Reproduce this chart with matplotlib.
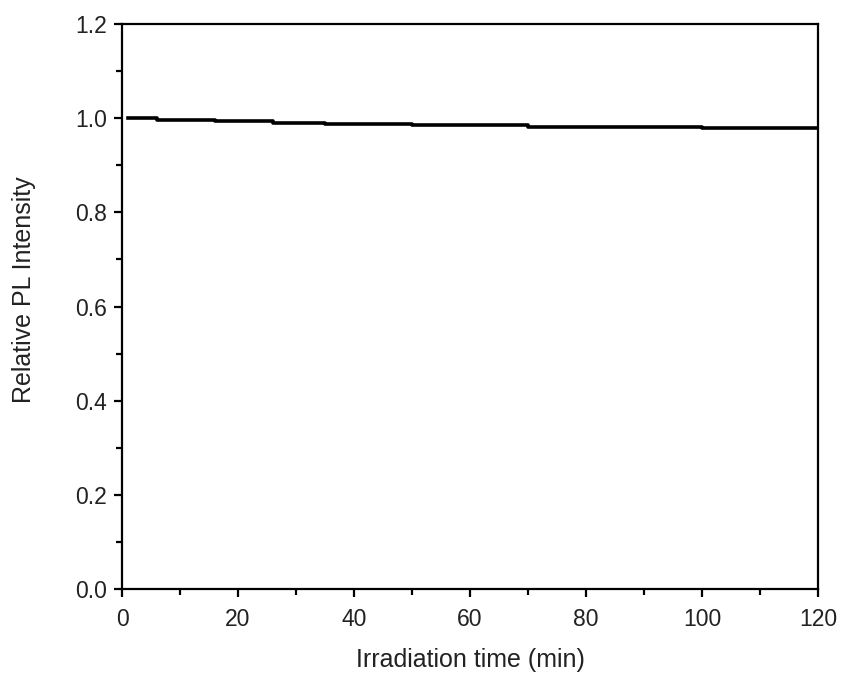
import matplotlib
matplotlib.use("Agg")
import matplotlib.pyplot as plt
from matplotlib.ticker import MultipleLocator

# Step levels
time_min = [1, 6, 16, 26, 35, 50, 70, 100, 120]
rel_pl = [1.000, 0.996, 0.993, 0.990, 0.987, 0.985, 0.982, 0.979, 0.979]

plt.rcParams["font.family"] = ["Liberation Sans", "DejaVu Sans"]

fig = plt.figure(figsize=(8.45, 6.77), dpi=100)
ax = fig.add_axes([0.1444, 0.13, 0.8236, 0.8345])

ax.step(time_min, rel_pl, where="post", color="black", lw=2.6)

ax.set_xlim(0, 120)
ax.set_ylim(0, 1.2)
ax.xaxis.set_major_locator(MultipleLocator(20))
ax.xaxis.set_minor_locator(MultipleLocator(10))
ax.yaxis.set_major_locator(MultipleLocator(0.2))
ax.yaxis.set_minor_locator(MultipleLocator(0.1))
ax.yaxis.set_major_formatter(plt.FormatStrFormatter("%.1f"))

for s in ax.spines.values():
    s.set_linewidth(1.6)
ax.tick_params(which="major", direction="out", length=6, width=1.6,
               labelsize=16.5, labelcolor="#222222")
ax.tick_params(axis="x", which="major", pad=8)
ax.tick_params(axis="y", which="major", pad=5)
ax.tick_params(which="minor", direction="out", length=4, width=1.6)

ax.set_xlabel("Irradiation time (min)", fontsize=18, color="#222222", labelpad=12)
ax.set_ylabel("Relative PL Intensity", fontsize=18, color="#222222")
ax.yaxis.set_label_coords(-0.123, 0.53)

fig.savefig("out.png", dpi=100)
